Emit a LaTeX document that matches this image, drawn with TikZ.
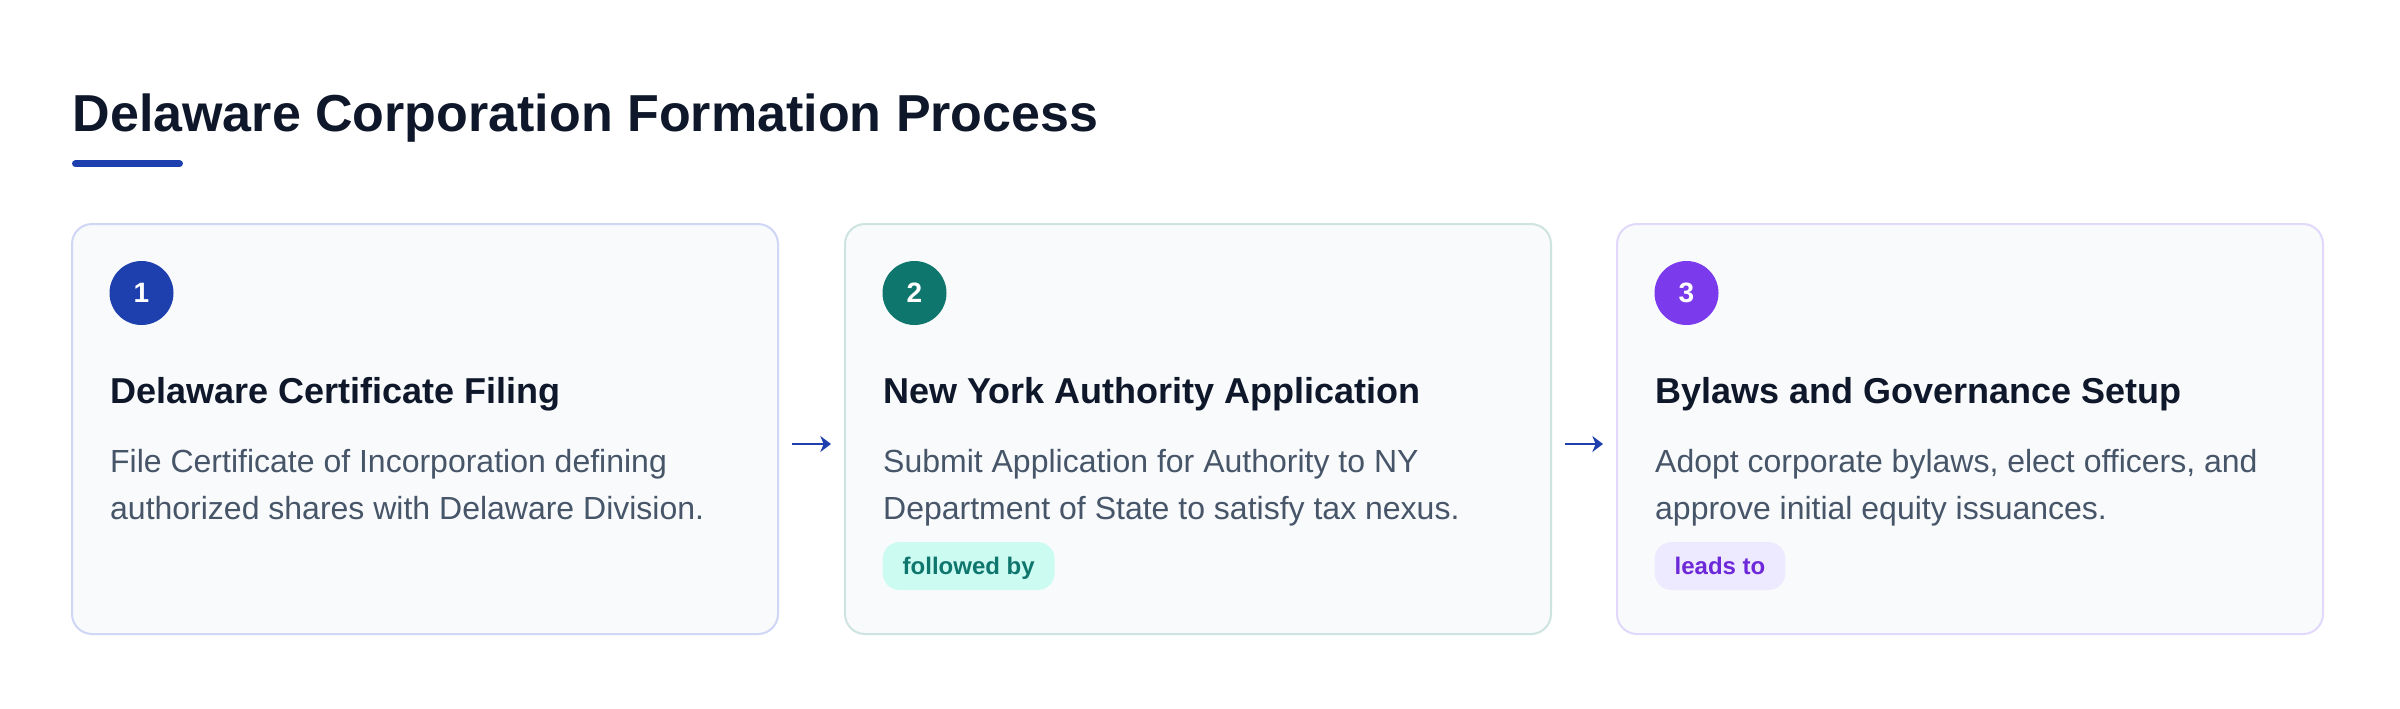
\documentclass[tikz,border=0pt]{standalone}
\usepackage{fontspec}
\setmainfont{Liberation Sans}
\usetikzlibrary{arrows.meta, positioning}

\definecolor{ink}{HTML}{0F172A}
\definecolor{slate}{HTML}{475569}
\definecolor{cardbg}{HTML}{F8FAFC}
\definecolor{blueone}{HTML}{1E40AF}
\definecolor{tealone}{HTML}{0F766E}
\definecolor{violetone}{HTML}{7C3AED}
\definecolor{blueline}{HTML}{CFD6F6}
\definecolor{tealline}{HTML}{CDE4E0}
\definecolor{violetline}{HTML}{E1D8FC}
\definecolor{tealbg}{HTML}{CCFBF1}
\definecolor{violetbg}{HTML}{EDE9FE}
\definecolor{violettext}{HTML}{6D28D9}

% 一个像素
\newlength\px
\setlength\px{0.3pt}

\tikzset{
  card/.style={draw=#1, line width=2\px, fill=cardbg, rounded corners=20\px,
    minimum width=706\px, minimum height=410\px, inner sep=0},
  stepnum/.style={circle, fill=#1, text=white, minimum size=64\px, inner sep=0,
    font=\bfseries\fontsize{8.4}{10}\selectfont},
  heading/.style={anchor=base west, inner sep=0, text=ink,
    font=\bfseries\fontsize{10.8}{12}\selectfont},
  desc/.style={anchor=base west, inner sep=0, text=slate, align=left,
    font=\fontsize{9.6}{14.25}\selectfont},
  badge/.style={anchor=west, fill=#1, rounded corners=17\px, minimum height=48\px,
    inner xsep=20\px, inner ysep=0, text height=0.74em, text depth=0.21em,
    font=\bfseries\fontsize{7.2}{8}\selectfont},
  flow/.style={-{Stealth[length=3.2pt, width=4.8pt, inset=1pt]}, line width=2\px,
    draw=blueone, shorten <=13\px, shorten >=13\px},
}

\begin{document}
\begin{tikzpicture}[x=1\px, y=-1\px]

  \useasboundingbox[fill=white] (0,0) rectangle (2400,708);

  % 标题
  \node[anchor=base west, inner sep=0, text=ink, font=\bfseries\fontsize{15.6}{18}\selectfont]
    (title) at (72,131.5) {Delaware Corporation Formation Process};
  \draw[line width=7\px, line cap=round, blueone] (75.5,163.7) -- (179.5,163.7);

  % 卡片
  \node[card=blueline] (card1) at (425,429) {};
  \node[card=tealline] (card2) at (1198,429) {};
  \node[card=violetline] (card3) at (1970,429) {};

  % 第一步（说明文字按第二行基线定位）
  \node[stepnum=blueone] (num1) at (141.5,293) {1};
  \node[heading] (head1) at (109.5,403) {Delaware Certificate Filing};
  \node[desc] (desc1) at (109.5,519.5) {File Certificate of Incorporation defining\\authorized shares with Delaware Division.};

  % 第二步
  \node[stepnum=tealone] (num2) at (914.5,293) {2};
  \node[heading] (head2) at (882.5,403) {New York Authority Application};
  \node[desc] (desc2) at (882.5,519.5) {Submit Application for Authority to NY\\Department of State to satisfy tax nexus.};
  \node[badge=tealbg, text=tealone] (tag2) at (882,566) {followed by};

  % 第三步
  \node[stepnum=violetone] (num3) at (1686.5,293) {3};
  \node[heading] (head3) at (1654.5,403) {Bylaws and Governance Setup};
  \node[desc] (desc3) at (1654.5,519.5) {Adopt corporate bylaws, elect officers, and\\approve initial equity issuances.};
  \node[badge=violetbg, text=violettext] (tag3) at (1654,566) {leads to};

  % 箭头
  \draw[flow] ([yshift=-15\px]card1.east) -- ([yshift=-15\px]card2.west);
  \draw[flow] ([yshift=-15\px]card2.east) -- ([yshift=-15\px]card3.west);

\end{tikzpicture}
\end{document}
